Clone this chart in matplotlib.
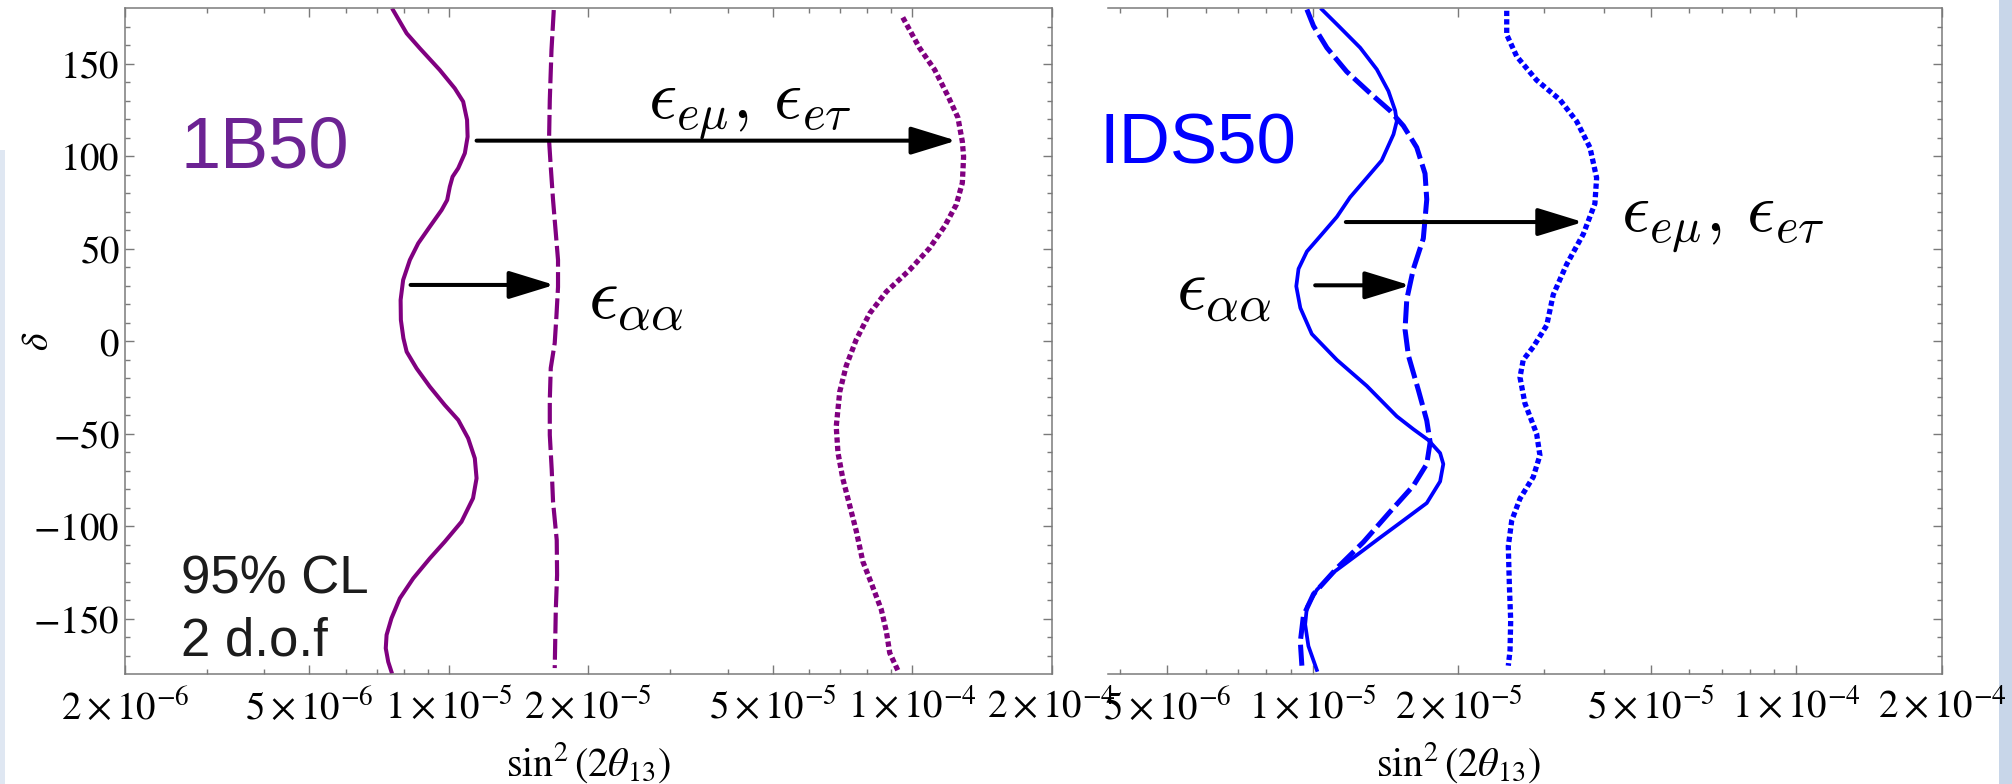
import numpy as np
import matplotlib.pyplot as plt
from matplotlib.patches import Rectangle
from matplotlib.ticker import FixedLocator, FixedFormatter, NullFormatter

plt.rcParams['mathtext.fontset'] = 'stix'
plt.rcParams['font.family'] = ['Liberation Serif', 'DejaVu Serif']

W, H = 2012, 784
purple = '#800080'
blue = '#0000ff'
gray = '#7a7a7a'

# ---- 1B50, 95% CL contours: delta [deg] vs sin^2(2 theta13) ----
b_std_delta = [178.9, 166.3, 158.2, 146.5, 136.6, 129.4, 119.5, 110.4, 101.5, 93.4,
               88.8, 83.4, 76.2, 70.8, 61.8, 52.8, 43.8, 33.0, 22.2, 11.4,
               1.5, -5.8, -14.8, -24.7, -34.6, -42.7, -52.6, -63.4, -74.2, -85.0,
               -97.7, -108.5, -117.5, -128.3, -139.1, -149.9, -158.9, -166.1, -173.4, -178.8]
b_std_s22 = [7.58e-6, 8.11e-6, 8.66e-6, 9.56e-6, 1.030e-5, 1.074e-5, 1.095e-5, 1.098e-5, 1.083e-5, 1.048e-5,
             1.019e-5, 1.005e-5, 9.92e-6, 9.65e-6, 9.10e-6, 8.59e-6, 8.24e-6, 7.97e-6, 7.87e-6, 7.88e-6,
             7.98e-6, 8.11e-6, 8.52e-6, 9.10e-6, 9.80e-6, 1.048e-5, 1.101e-5, 1.138e-5, 1.148e-5, 1.128e-5,
             1.065e-5, 9.80e-6, 9.10e-6, 8.38e-6, 7.84e-6, 7.52e-6, 7.34e-6, 7.31e-6, 7.40e-6, 7.52e-6]

b_aa_delta = [178.9, 157.3, 130.3, 108.6, 94.1, 76.2, 58.4, 43.8, 29.2, 13.0,
              -1.1, -14.6, -31.9, -50.8, -69.7, -87.0, -107.6, -126.5, -145.4, -176.8]
b_aa_s22 = [1.685e-5, 1.666e-5, 1.652e-5, 1.646e-5, 1.660e-5, 1.679e-5, 1.702e-5, 1.721e-5, 1.721e-5, 1.707e-5,
            1.693e-5, 1.660e-5, 1.652e-5, 1.652e-5, 1.668e-5, 1.679e-5, 1.710e-5, 1.713e-5, 1.702e-5, 1.693e-5]

b_emu_delta = [174.9, 158.4, 146.6, 132.5, 120.8, 107.8, 99.6, 85.5, 73.7, 61.9,
               50.2, 38.4, 26.6, 14.9, 0.8, -13.4, -27.5, -46.3, -60.4, -74.5,
               -88.6, -102.8, -119.2, -131.0, -145.1, -156.9, -168.6, -178.1]
b_emu_s22 = [9.55e-5, 1.038e-4, 1.119e-4, 1.195e-4, 1.256e-4, 1.284e-4, 1.292e-4, 1.284e-4, 1.246e-4, 1.175e-4,
             1.091e-4, 9.88e-5, 8.80e-5, 8.10e-5, 7.58e-5, 7.21e-5, 6.98e-5, 6.86e-5, 6.92e-5, 7.09e-5,
             7.33e-5, 7.58e-5, 7.83e-5, 8.17e-5, 8.58e-5, 8.80e-5, 8.95e-5, 9.32e-5]

# ---- IDS50 ----
i_std_delta = [179.2, 170.3, 158.5, 146.8, 135.1, 124.5, 118.7, 111.7, 97.6, 88.2,
               77.7, 67.1, 56.6, 48.4, 39.0, 29.6, 17.9, 3.8, -10.2, -24.3,
               -40.7, -47.7, -53.6, -60.6, -66.5, -75.9, -87.6, -97.0, -106.3, -115.7,
               -125.1, -134.5, -143.8, -153.2, -164.9, -177.8]
i_std_s22 = [1.044e-5, 1.130e-5, 1.253e-5, 1.356e-5, 1.433e-5, 1.480e-5, 1.491e-5, 1.468e-5, 1.388e-5, 1.293e-5,
             1.194e-5, 1.121e-5, 1.035e-5, 9.72e-6, 9.34e-6, 9.24e-6, 9.42e-6, 9.95e-6, 1.121e-5, 1.293e-5,
             1.491e-5, 1.614e-5, 1.734e-5, 1.833e-5, 1.861e-5, 1.833e-5, 1.720e-5, 1.539e-5, 1.377e-5, 1.233e-5,
             1.103e-5, 1.019e-5, 9.72e-6, 9.64e-6, 9.79e-6, 1.019e-5]

i_aa_delta = [179.2, 170.3, 158.5, 145.6, 133.9, 124.5, 116.3, 104.6, 90.5, 76.5,
              55.4, 39.0, 22.6, 6.2, -7.9, -26.6, -43.0, -54.8, -66.5, -78.2,
              -92.3, -108.7, -122.8, -136.8, -148.5, -162.6, -175.5]
i_aa_s22 = [9.72e-6, 1.003e-5, 1.069e-5, 1.175e-5, 1.314e-5, 1.444e-5, 1.539e-5, 1.640e-5, 1.706e-5, 1.720e-5,
            1.692e-5, 1.614e-5, 1.564e-5, 1.551e-5, 1.576e-5, 1.653e-5, 1.720e-5, 1.748e-5, 1.720e-5, 1.614e-5,
            1.444e-5, 1.272e-5, 1.121e-5, 1.003e-5, 9.56e-6, 9.42e-6, 9.49e-6]

i_emu_delta = [178.5, 165.6, 153.8, 141.0, 130.4, 118.7, 104.6, 88.2, 74.2, 57.7,
               41.4, 25.0, 8.5, -3.2, -10.2, -19.6, -33.7, -50.1, -61.8, -73.5,
               -85.2, -97.0, -111.0, -132.1, -150.9, -167.3, -175.5]
i_emu_s22 = [2.517e-5, 2.517e-5, 2.640e-5, 2.902e-5, 3.243e-5, 3.512e-5, 3.741e-5, 3.862e-5, 3.830e-5, 3.623e-5,
             3.348e-5, 3.141e-5, 3.045e-5, 2.856e-5, 2.723e-5, 2.681e-5, 2.745e-5, 2.902e-5, 2.948e-5, 2.856e-5,
             2.681e-5, 2.578e-5, 2.536e-5, 2.549e-5, 2.565e-5, 2.557e-5, 2.536e-5]

# arrows: (delta, start, tip)
b_arrows = [(108.3, 1.148e-5, 1.246e-4), (30.3, 8.27e-6, 1.69e-5)]
i_arrows = [(64.3, 1.170e-5, 3.62e-5), (30.1, 1.011e-5, 1.589e-5)]

xmaj = [2e-6, 5e-6, 1e-5, 2e-5, 5e-5, 1e-4, 2e-4]
xmaj_lab = [r'$2\times10^{-6}$', r'$5\times10^{-6}$', r'$1\times10^{-5}$', r'$2\times10^{-5}$',
            r'$5\times10^{-5}$', r'$1\times10^{-4}$', r'$2\times10^{-4}$']
xmin = [3e-6, 4e-6, 6e-6, 7e-6, 8e-6, 9e-6, 3e-5, 4e-5, 6e-5, 7e-5, 8e-5, 9e-5]
ymaj = [-150, -100, -50, 0, 50, 100, 150]
ymaj_lab = [r'$-150$', r'$-100$', r'$-50$', r'$0$', r'$50$', r'$100$', r'$150$']

fig = plt.figure(figsize=(W / 100, H / 100), dpi=100)
ax1 = fig.add_axes([125 / W, 1 - 674 / H, 926.5 / W, 666 / H])
ax2 = fig.add_axes([1108 / W, 1 - 674 / H, 834 / W, 666 / H])


def setup(ax, xlim):
    ax.set_xscale('log')
    ax.set_xlim(*xlim)
    ax.set_ylim(-180, 180)
    ax.xaxis.set_major_locator(FixedLocator(xmaj))
    ax.xaxis.set_major_formatter(FixedFormatter(xmaj_lab))
    ax.xaxis.set_minor_locator(FixedLocator(xmin))
    ax.xaxis.set_minor_formatter(NullFormatter())
    ax.yaxis.set_major_locator(FixedLocator(ymaj))
    ax.yaxis.set_major_formatter(FixedFormatter(ymaj_lab))
    ax.yaxis.set_minor_locator(FixedLocator(list(range(-170, 180, 10))))
    ax.tick_params(which='both', direction='in', top=True, right=True,
                   color=gray, width=1.0)
    ax.tick_params(which='major', length=6.5)
    ax.tick_params(which='minor', length=3.3)
    ax.tick_params(axis='x', labelsize=28, pad=11)
    ax.tick_params(axis='y', labelsize=28, pad=4)
    for sp in ax.spines.values():
        sp.set_color(gray)
        sp.set_linewidth(1.1)
    ax.text(2e-5, -0.133, r'$\sin^2(2\theta_{13})$', transform=ax.get_xaxis_transform(),
            ha='center', va='center', fontsize=29, clip_on=False)


def arrow(ax, d, x0, x1):
    ax.annotate('', xy=(x1, d), xytext=(x0, d),
                arrowprops=dict(arrowstyle='-|>,head_length=28,head_width=8.6',
                                mutation_scale=1, lw=2.9, color='k',
                                shrinkA=0, shrinkB=0))


setup(ax1, (2e-6, 2e-4))
setup(ax2, (3.77e-6, 2e-4))
ax2.spines['left'].set_visible(False)
ax2.tick_params(which='both', left=False, labelleft=False)

ax1.set_ylabel(r'$\delta$', fontsize=27, labelpad=0)
ax1.yaxis.set_label_coords(-0.075, 0.5)

ax1.plot(b_std_s22, b_std_delta, color=purple, lw=2.9)
ax1.plot(b_aa_s22, b_aa_delta, color=purple, lw=3.0, dashes=(5.0, 1.3))
ax1.plot(b_emu_s22, b_emu_delta, color=purple, lw=3.8, dashes=(1.0, 0.6))

ax2.plot(i_std_s22, i_std_delta, color=blue, lw=2.7)
ax2.plot(i_aa_s22, i_aa_delta, color=blue, lw=3.6, dashes=(4.4, 1.2))
ax2.plot(i_emu_s22, i_emu_delta, color=blue, lw=3.8, dashes=(1.0, 0.6))

for d, x0, x1 in b_arrows:
    arrow(ax1, d, x0, x1)
for d, x0, x1 in i_arrows:
    arrow(ax2, d, x0, x1)


def ftext(x, y, s, **kw):
    fig.text(x / W, 1 - y / H, s, va='baseline', ha='left', **kw)


sans = ['Liberation Sans', 'DejaVu Sans']
ftext(181, 167, '1B50', color='#6c2393', fontsize=52, family=sans)
ftext(1099, 164, 'IDS50', color=blue, fontsize=51, family=sans)
ftext(181, 594, '95% CL', color='#1c1c1c', fontsize=38, family=sans)
ftext(181, 655, '2 d.o.f', color='#1c1c1c', fontsize=38, family=sans)

ftext(648, 118, r'$\epsilon_{e\mu},\,\epsilon_{e\tau}$', fontsize=50, math_fontfamily='cm')
ftext(1621, 231, r'$\epsilon_{e\mu},\,\epsilon_{e\tau}$', fontsize=50, math_fontfamily='cm')
ftext(588, 318, r'$\epsilon_{\alpha\alpha}$', fontsize=53, math_fontfamily='cm')
ftext(1176, 309, r'$\epsilon_{\alpha\alpha}$', fontsize=53, math_fontfamily='cm')

# pale slide background showing at the edges
fig.add_artist(Rectangle((0, 0), 5 / W, (H - 150) / H, transform=fig.transFigure,
                         color='#dfe7f2', lw=0, zorder=-1))
fig.add_artist(Rectangle((1999 / W, 0), 13 / W, 1, transform=fig.transFigure,
                         color='#c8d6e9', lw=0, zorder=-1))

fig.savefig('out.png', dpi=100)
